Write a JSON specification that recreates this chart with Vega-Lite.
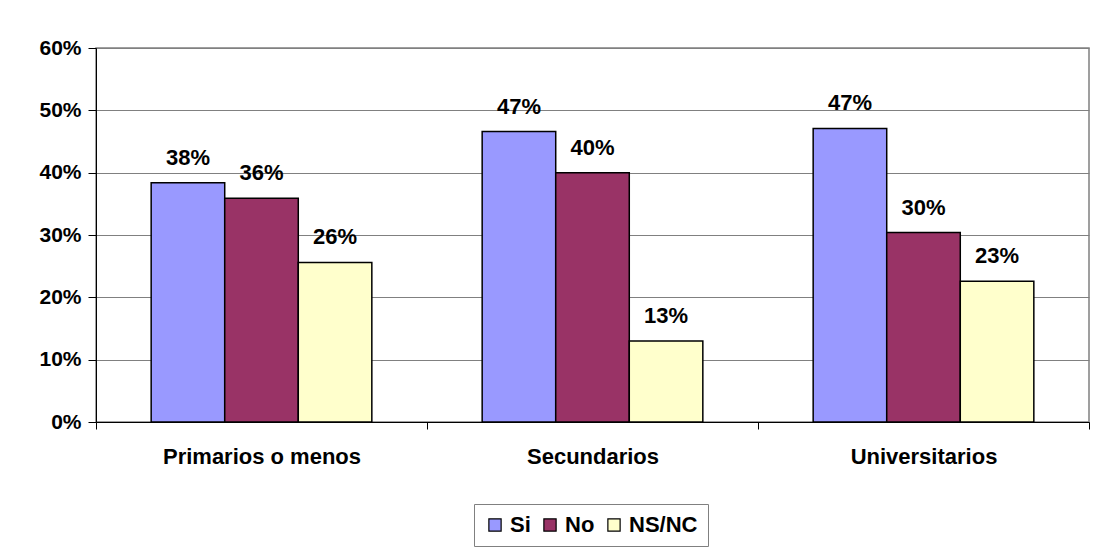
{
  "$schema": "https://vega.github.io/schema/vega-lite/v6.json",
  "autosize": "none",
  "width": 993,
  "height": 374,
  "padding": {"left": 96, "top": 48, "right": 11, "bottom": 128},
  "background": "white",
  "config": {
    "font": "Liberation Sans",
    "view": {"stroke": "#808080", "strokeWidth": 1.5}
  },
  "data": {
    "values": [
      {"nivel": "Primarios o menos", "resp": "Si", "v": 0.384},
      {"nivel": "Primarios o menos", "resp": "No", "v": 0.359},
      {"nivel": "Primarios o menos", "resp": "NS/NC", "v": 0.256},
      {"nivel": "Secundarios", "resp": "Si", "v": 0.466},
      {"nivel": "Secundarios", "resp": "No", "v": 0.400},
      {"nivel": "Secundarios", "resp": "NS/NC", "v": 0.130},
      {"nivel": "Universitarios", "resp": "Si", "v": 0.471},
      {"nivel": "Universitarios", "resp": "No", "v": 0.304},
      {"nivel": "Universitarios", "resp": "NS/NC", "v": 0.226}
    ]
  },
  "encoding": {
    "x": {
      "field": "nivel", "type": "nominal", "sort": null,
      "scale": {"paddingInner": 0, "paddingOuter": 0},
      "axis": {
        "title": null, "labelAngle": 0, "labelFontSize": 22, "labelFontWeight": "bold",
        "labelColor": "black", "domainColor": "black", "domainWidth": 1,
        "tickColor": "black", "tickSize": 7, "tickBand": "extent",
        "labelPadding": 17, "labelLimit": 0, "grid": false
      }
    },
    "xOffset": {"field": "resp", "type": "nominal", "sort": ["Si", "No", "NS/NC"], "scale": {"paddingInner": 0, "paddingOuter": 0.75}},
    "y": {
      "field": "v", "type": "quantitative",
      "scale": {"domain": [0, 0.6], "nice": false},
      "axis": {
        "title": null, "format": ".0%", "values": [0, 0.1, 0.2, 0.3, 0.4, 0.5, 0.6],
        "labelFontSize": 21, "labelFontWeight": "bold", "labelColor": "black",
        "domainColor": "black", "tickColor": "black", "tickSize": 8, "labelPadding": 7,
        "gridColor": "#808080", "gridOpacity": 1, "gridWidth": 1
      }
    }
  },
  "layer": [
    {
      "mark": {"type": "bar", "stroke": "black", "strokeWidth": 1.5},
      "encoding": {
        "color": {
          "field": "resp", "type": "nominal", "sort": ["Si", "No", "NS/NC"],
          "scale": {"domain": ["Si", "No", "NS/NC"], "range": ["#9999FF", "#993366", "#FFFFCC"]},
          "legend": {
            "title": null, "orient": "none", "direction": "horizontal",
            "legendX": 378, "legendY": 456,
            "symbolType": "square", "symbolSize": 150, "symbolStrokeColor": "black",
            "symbolStrokeWidth": 1.2, "symbolOpacity": 1,
            "labelFontSize": 22, "labelFontWeight": "bold", "labelColor": "black",
            "strokeColor": "#808080", "padding": 10, "columnPadding": 8,
            "labelOffset": 4, "fillColor": "white"
          }
        }
      }
    },
    {
      "mark": {"type": "text", "baseline": "alphabetic", "dy": -18, "fontSize": 22, "fontWeight": "bold", "color": "black"},
      "encoding": {
        "text": {"field": "v", "type": "quantitative", "format": ".0%"}
      }
    }
  ]
}
